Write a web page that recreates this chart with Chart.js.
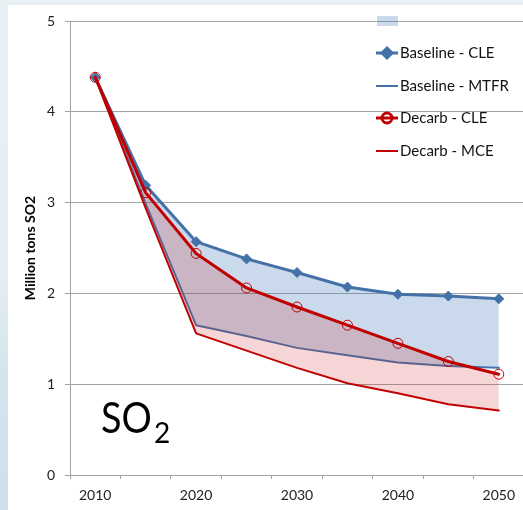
<!DOCTYPE html>
<html>
<head>
<meta charset="utf-8">
<script src="https://cdn.jsdelivr.net/npm/chart.js@4.4.1/dist/chart.umd.min.js"></script>
<style>
  html, body { margin: 0; padding: 0; overflow: hidden; }
  body {
    width: 523px; height: 510px; position: relative;
    background: linear-gradient(to bottom, #eaf1f4 0%, #e3edf2 55%, #d3e4ed 75%, #cde0ea 100%);
  }
  #panel { position: absolute; left: 8px; top: 5px; width: 515px; height: 505px; background: #fff; }
  #so2 { position: absolute; left: 0; top: 0; }
</style>
</head>
<body>
<div id="panel"></div>
<canvas id="so2" width="530" height="510"></canvas>
<script>
const years = ['2010', '2015', '2020', '2025', '2030', '2035', '2040', '2045', '2050'];
const baselineCLE = [4.38, 3.19, 2.57, 2.38, 2.23, 2.07, 1.99, 1.97, 1.94];
const baselineMTFR = [4.38, 2.99, 1.65, 1.53, 1.40, 1.32, 1.24, 1.20, 1.18];
const decarbCLE = [4.38, 3.11, 2.44, 2.06, 1.85, 1.65, 1.45, 1.25, 1.11];
const decarbMCE = [4.38, 2.94, 1.56, 1.37, 1.18, 1.01, 0.90, 0.78, 0.71];
const yTicks = [0, 1, 2, 3, 4, 5];

const blue = '#4472a8';
const red = '#c00000';
const blueFill = 'rgba(79,129,189,0.30)';
const redFill = 'rgba(200,20,20,0.18)';
const gridColor = '#a3a3a3';
const font = 'Lato';

// legend in the top right plus the big SO2 label
const sideLegend = {
  id: 'sideLegend',
  afterDraw(chart) {
    const { ctx } = chart;
    ctx.save();
    ctx.fillStyle = blueFill;
    ctx.fillRect(377, 16, 21, 10);

    const rows = [53, 86, 118, 151];
    chart.data.datasets.forEach((ds, i) => {
      const y = rows[i];
      ctx.strokeStyle = ds.borderColor;
      ctx.lineWidth = ds.borderWidth;
      ctx.beginPath();
      ctx.moveTo(376, y);
      ctx.lineTo(398, y);
      ctx.stroke();
      if (ds.pointRadius > 0) {
        ctx.fillStyle = ds.pointBackgroundColor;
        ctx.strokeStyle = ds.pointBorderColor;
        Chart.helpers.drawPoint(ctx, {
          pointStyle: ds.pointStyle,
          radius: ds.pointRadius,
          rotation: 0,
          borderWidth: ds.pointBorderWidth
        }, 387, y);
      }
      ctx.fillStyle = '#111';
      ctx.font = '15px ' + font;
      ctx.textBaseline = 'middle';
      ctx.textAlign = 'left';
      ctx.fillText(ds.label, 400, y);
    });

    ctx.fillStyle = '#000';
    ctx.textBaseline = 'alphabetic';
    ctx.save();
    ctx.translate(101, 433);
    ctx.scale(0.88, 1);
    ctx.font = '43px ' + font;
    ctx.fillText('SO', 0, 0);
    ctx.restore();
    ctx.font = '28px ' + font;
    ctx.fillText('2', 154, 443);
    ctx.restore();
  }
};

new Chart(document.getElementById('so2'), {
  type: 'line',
  plugins: [sideLegend],
  data: {
    labels: years,
    datasets: [
      {
        label: 'Baseline - CLE',
        data: baselineCLE,
        borderColor: blue,
        borderWidth: 3,
        backgroundColor: blueFill,
        fill: 1,
        pointStyle: 'rectRot',
        pointRadius: 5,
        pointHoverRadius: 5,
        pointBackgroundColor: blue,
        pointBorderColor: blue,
        pointBorderWidth: 1,
        order: 2
      },
      {
        label: 'Baseline - MTFR',
        data: baselineMTFR,
        borderColor: blue,
        borderWidth: 2,
        fill: false,
        pointRadius: 0,
        order: 2
      },
      {
        label: 'Decarb - CLE',
        data: decarbCLE,
        borderColor: red,
        borderWidth: 3,
        backgroundColor: redFill,
        fill: 3,
        pointStyle: 'circle',
        pointRadius: 5,
        pointHoverRadius: 5,
        pointBackgroundColor: 'rgba(0,0,0,0)',
        pointBorderColor: red,
        pointBorderWidth: 1,
        order: 1
      },
      {
        label: 'Decarb - MCE',
        data: decarbMCE,
        borderColor: red,
        borderWidth: 2,
        fill: false,
        pointRadius: 0,
        order: 1
      }
    ]
  },
  options: {
    responsive: false,
    animation: false,
    events: [],
    layout: { padding: { top: 21, right: 5, left: 0, bottom: 0 } },
    elements: {
      line: { tension: 0, borderJoinStyle: 'round', borderCapStyle: 'round' }
    },
    plugins: {
      legend: { display: false },
      tooltip: { enabled: false },
      filler: { propagate: false }
    },
    scales: {
      x: {
        type: 'category',
        offset: true,
        afterFit(scale) { scale.height = 35; },
        grid: {
          display: true,
          offset: true,
          drawOnChartArea: false,
          drawTicks: true,
          tickLength: 4,
          color: gridColor
        },
        border: { display: true, color: gridColor },
        ticks: {
          autoSkip: false,
          maxRotation: 0,
          padding: 8,
          color: '#222',
          font: { family: font, size: 14 },
          callback: (v, i) => (i % 2 === 0 ? years[i] : '')
        }
      },
      y: {
        min: 0,
        max: 5,
        afterFit(scale) { scale.width = 70; },
        afterBuildTicks(scale) { scale.ticks = yTicks.map(v => ({ value: v })); },
        grid: { color: gridColor, tickLength: 5 },
        border: { display: true, color: gridColor },
        ticks: {
          padding: 10,
          color: '#222',
          font: { family: font, size: 14 }
        },
        title: {
          display: true,
          text: 'Million tons SO2',
          color: '#000',
          font: { family: font, size: 14, weight: 'bold' },
          padding: { top: 22, bottom: 0 }
        }
      }
    }
  }
});
</script>
</body>
</html>
